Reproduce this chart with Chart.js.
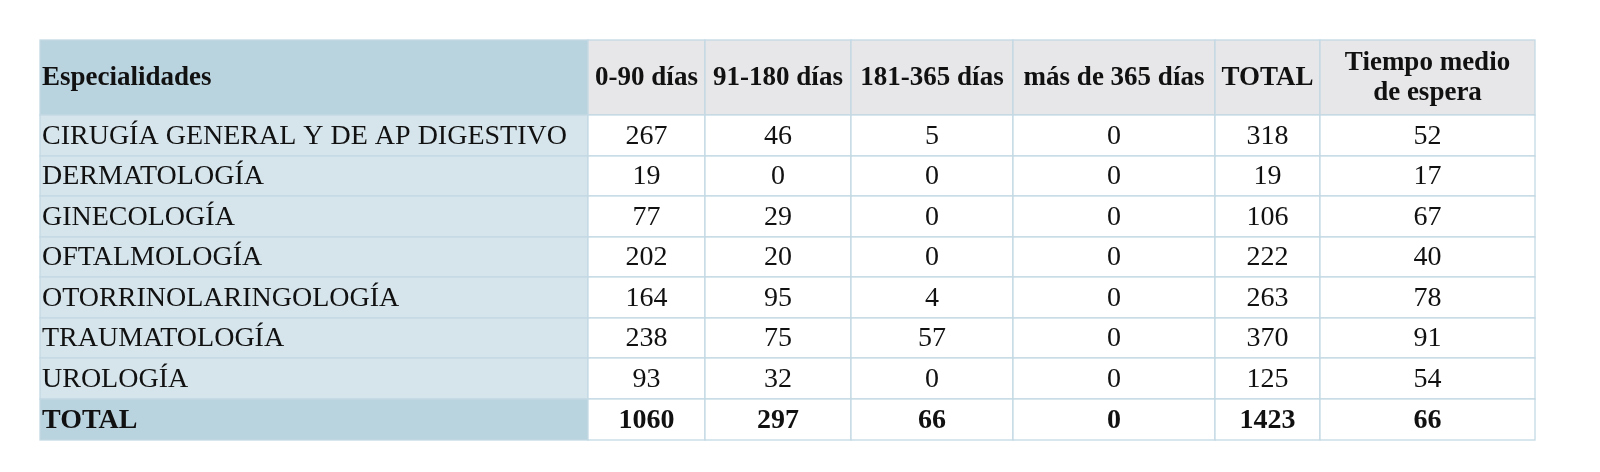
<!DOCTYPE html>
<html><head><meta charset="utf-8">
<script src="https://cdn.jsdelivr.net/npm/chart.js@4/dist/chart.umd.min.js"></script>
<style>html,body{margin:0;background:#fff}#c{display:block}</style></head>
<body><div style="width:1600px;height:472px"><canvas id="c"></canvas></div>
<script>
const headers = ["Especialidades","0-90 días","91-180 días","181-365 días","más de 365 días","TOTAL","Tiempo medio|de espera"];
const categories = ["CIRUGÍA GENERAL Y DE AP DIGESTIVO","DERMATOLOGÍA","GINECOLOGÍA","OFTALMOLOGÍA","OTORRINOLARINGOLOGÍA","TRAUMATOLOGÍA","UROLOGÍA"];
const d0_90 = [267,19,77,202,164,238,93];
const d91_180 = [46,0,29,20,95,75,32];
const d181_365 = [5,0,0,0,4,57,0];
const dMas365 = [0,0,0,0,0,0,0];
const totals = [318,19,106,222,263,370,125];
const tiempoMedio = [52,17,67,40,78,91,54];
const totalRow = ["TOTAL",1060,297,66,0,1423,66];

const colEdges = [40,588,705,851,1013,1215,1320,1535];
const rowEdges = [40,115,156,196,237,277,318,358,399,440];

const tablePlugin = {
  id:'table',
  afterDraw(chart){
    const ctx = chart.ctx, xs = chart.scales.x, ys = chart.scales.y;
    const X = v=>xs.getPixelForValue(v), Y = v=>ys.getPixelForValue(v);
    const rows = [headers];
    categories.forEach((c,i)=>rows.push([c,d0_90[i],d91_180[i],d181_365[i],dMas365[i],totals[i],tiempoMedio[i]]));
    rows.push(totalRow);
    ctx.save();
    rows.forEach((r,ri)=>{
      r.forEach((v,ci)=>{
        const x0=X(colEdges[ci]),x1=X(colEdges[ci+1]),y0=Y(rowEdges[ri]),y1=Y(rowEdges[ri+1]);
        let bg='#ffffff';
        if(ri===0) bg = ci===0?'#b9d3df':'#e7e6e8';
        else if(ci===0) bg = ri===rows.length-1?'#b9d3df':'#d6e5ec';
        ctx.fillStyle=bg; ctx.fillRect(x0,y0,x1-x0,y1-y0);
        ctx.strokeStyle='#c3d9e4'; ctx.lineWidth=1.3; ctx.strokeRect(x0,y0,x1-x0,y1-y0);
        const bold = ri===0||ri===rows.length-1;
        ctx.fillStyle='#111';
        ctx.font=(bold?'bold ':'')+(ri===0?'27px':'28px')+' "Liberation Serif", serif';
        ctx.textBaseline='middle';
        const lines=String(v).split('|');
        const cy=(y0+y1)/2+1;
        lines.forEach((t,li)=>{
          const ly=cy+(li-(lines.length-1)/2)*30;
          if(ci===0){ctx.textAlign='left';ctx.fillText(t,x0+2,ly);}
          else{ctx.textAlign='center';ctx.fillText(t,(x0+x1)/2,ly);}
        });
      });
    });
    ctx.restore();
  }
};

new Chart(document.getElementById('c'),{
  type:'scatter',
  data:{datasets:[{data:[]}]},
  options:{responsive:true,maintainAspectRatio:false,animation:false,
    layout:{padding:0},
    plugins:{legend:{display:false},tooltip:{enabled:false}},
    scales:{x:{type:'linear',min:0,max:1600,display:false},
            y:{type:'linear',min:0,max:472,reverse:true,display:false}}},
  plugins:[tablePlugin]
});
</script></body></html>
